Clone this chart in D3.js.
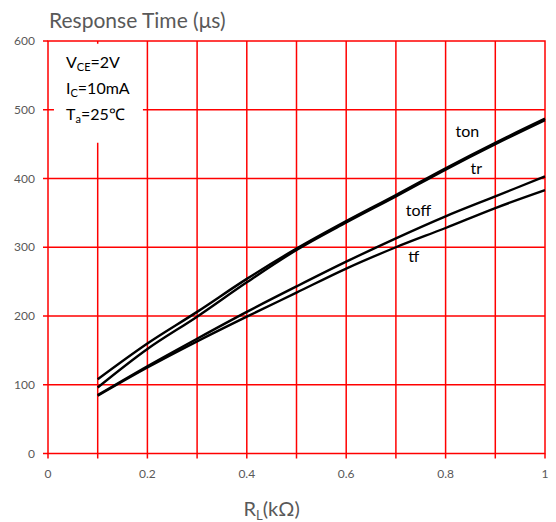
<!DOCTYPE html>
<html>
    <head>
        <title>Response Time vs RL</title>
        <script src="https://d3js.org/d3.v7.min.js"></script>
        <style>
            body { margin: 0; background: #fff; }
            text { font-family: Lato, "Open Sans", sans-serif; }
        </style>
    </head>
    <body>
    </body>
    <script>
        // data
        var rl   = [0.1, 0.2, 0.3, 0.4, 0.5, 0.6, 0.7, 0.8, 0.9, 1.0];
        var ton  = [108, 160, 206, 254, 298, 338, 376, 415, 452, 487];
        var tr   = [96, 152, 199, 249, 296, 336, 374, 413, 450, 485];
        var toff = [85, 127, 167, 206, 243, 279, 313, 345, 374, 403];
        var tf   = [84, 125, 163, 199, 234, 269, 300, 328, 357, 383];
        var xTicks = [0, 0.2, 0.4, 0.6, 0.8, 1];
        var yTicks = [0, 100, 200, 300, 400, 500, 600];
        var conditions = [["V", "CE", "=2V"], ["I", "C", "=10mA"], ["T", "a", "=25\u2103"]];

        var W = 556, H = 522;
        var margin = {top: 41, right: 11, bottom: 68.5, left: 48};
        var w = W - margin.left - margin.right;
        var h = H - margin.top - margin.bottom;

        var svg = d3.select("body").append("svg")
                    .attr("width", W)
                    .attr("height", H);
        var g = svg.append("g").attr("transform", "translate(" + margin.left + "," + margin.top + ")");

        var x = d3.scaleLinear().domain([0, 1]).range([0, w]);
        var y = d3.scaleLinear().domain([0, 600]).range([h, 0]);
        var red = "#ff0000", grey = "#595959";

        // grid
        g.selectAll("line.vg").data(d3.range(1, 10).map(function(i){ return i / 10; }))
            .enter().append("line")
            .attr("x1", function(d){ return x(d); }).attr("x2", function(d){ return x(d); })
            .attr("y1", 0).attr("y2", h + 5)
            .attr("stroke", red).attr("stroke-width", 1.5);
        g.selectAll("line.hg").data([100, 200, 300, 400, 500])
            .enter().append("line")
            .attr("x1", -5).attr("x2", w)
            .attr("y1", function(d){ return y(d); }).attr("y2", function(d){ return y(d); })
            .attr("stroke", red).attr("stroke-width", 1.5);

        // white box behind the conditions
        g.append("rect")
            .attr("x", x(0.012)).attr("y", y(596))
            .attr("width", x(0.191) - x(0.012)).attr("height", y(452) - y(596))
            .attr("fill", "#fff");

        // frame and outer ticks
        g.append("rect").attr("width", w).attr("height", h)
            .attr("fill", "none").attr("stroke", red).attr("stroke-width", 1.5);
        g.append("line").attr("x1", -5).attr("x2", 0).attr("y1", y(600)).attr("y2", y(600))
            .attr("stroke", red).attr("stroke-width", 1.5);
        g.append("line").attr("x1", -5).attr("x2", 0).attr("y1", y(0)).attr("y2", y(0))
            .attr("stroke", red).attr("stroke-width", 1.5);
        g.append("line").attr("x1", 0).attr("x2", 0).attr("y1", h).attr("y2", h + 5)
            .attr("stroke", red).attr("stroke-width", 1.5);
        g.append("line").attr("x1", w).attr("x2", w).attr("y1", h).attr("y2", h + 5)
            .attr("stroke", red).attr("stroke-width", 1.5);

        // tick labels
        g.selectAll("text.yl").data(yTicks).enter().append("text")
            .attr("x", -13).attr("y", function(d){ return y(d); })
            .attr("dy", "0.35em").attr("text-anchor", "end")
            .attr("font-size", 12).attr("fill", grey)
            .text(function(d){ return d; });
        g.selectAll("text.xl").data(xTicks).enter().append("text")
            .attr("x", function(d){ return x(d); }).attr("y", h + 24)
            .attr("text-anchor", "middle")
            .attr("font-size", 12).attr("fill", grey)
            .text(function(d){ return d; });

        // titles
        svg.append("text").attr("x", 49).attr("y", 28)
            .attr("font-size", 21).attr("fill", grey)
            .text("Response Time (\u03bcs)");
        var xt = svg.append("text").attr("x", margin.left + x(0.45)).attr("y", 516)
            .attr("text-anchor", "middle").attr("font-size", 20).attr("fill", grey);
        xt.append("tspan").text("R");
        xt.append("tspan").attr("font-size", 13).attr("dy", 4).text("L");
        xt.append("tspan").attr("dy", -4).text("(k\u03a9)");

        // conditions
        conditions.forEach(function(c, i){
            var t = g.append("text").attr("x", 18).attr("y", 27 + i * 26)
                .attr("font-size", 16).attr("fill", "#000");
            t.append("tspan").text(c[0]);
            t.append("tspan").attr("font-size", 11).attr("dy", 3).text(c[1]);
            t.append("tspan").attr("dy", -3).text(c[2]);
        });

        // curves
        var line = d3.line()
            .x(function(d, i){ return x(rl[i]); })
            .y(function(d){ return y(d); })
            .curve(d3.curveCatmullRom);
        [ton, tr, toff, tf].forEach(function(s){
            g.append("path").datum(s)
                .attr("d", line)
                .attr("fill", "none").attr("stroke", "#000").attr("stroke-width", 2.4);
        });

        // curve labels
        var labels = [["ton", 0.82, 460], ["tr", 0.85, 406], ["toff", 0.72, 345], ["tf", 0.725, 278]];
        g.selectAll("text.cl").data(labels).enter().append("text")
            .attr("x", function(d){ return x(d[1]); })
            .attr("y", function(d){ return y(d[2]); })
            .attr("font-size", 16).attr("fill", "#000")
            .text(function(d){ return d[0]; });
    </script>
</html>
